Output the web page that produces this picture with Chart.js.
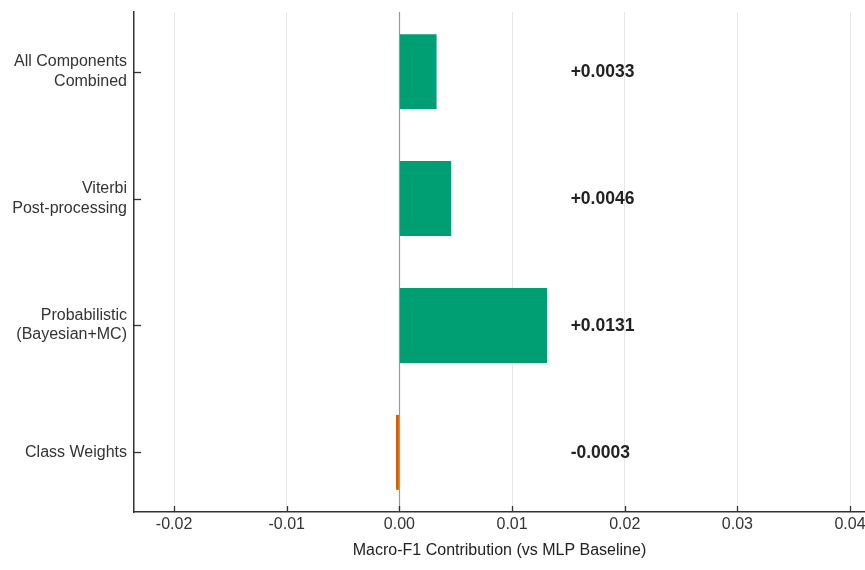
<!DOCTYPE html>
<html>
<head>
<meta charset="utf-8">
<script src="https://cdn.jsdelivr.net/npm/chart.js@4/dist/chart.umd.min.js"></script>
<style>
  html, body { margin: 0; padding: 0; background: #fff; }
  #wrap { width: 865px; height: 570px; position: relative; }
</style>
</head>
<body>
<div id="wrap"><canvas id="c"></canvas></div>
<script>
// Categories, bottom (index 0) to top (index 3)
const categories = [
  ['Class Weights'],
  ['Probabilistic', '(Bayesian+MC)'],
  ['Viterbi', 'Post-processing'],
  ['All Components', 'Combined']
];
const contributions = [-0.0003, 0.0131, 0.0046, 0.0033];
const valueLabels = ['-0.0003', '+0.0131', '+0.0046', '+0.0033'];
const xTickValues = [-0.02, -0.01, 0.00, 0.01, 0.02, 0.03, 0.04];
const labelXPosition = 0.0152;

const GREEN = '#009E73';
const ORANGE = '#D55E00';
const FONT = "'Liberation Sans', Arial, sans-serif";

const inwardTicks = {
  id: 'inwardTicks',
  afterDraw(chart) {
    const ctx = chart.ctx;
    const xs = chart.scales.x, ys = chart.scales.y;
    const area = chart.chartArea;
    ctx.save();
    ctx.strokeStyle = '#333';
    ctx.lineWidth = 1.3;
    xTickValues.forEach(v => {
      const px = Math.round(xs.getPixelForValue(v)) + 0.5;
      ctx.beginPath();
      ctx.moveTo(px, area.bottom);
      ctx.lineTo(px, area.bottom - 6);
      ctx.stroke();
    });
    categories.forEach((c, i) => {
      const py = Math.round(ys.getPixelForValue(i)) + 0.5;
      ctx.beginPath();
      ctx.moveTo(area.left, py);
      ctx.lineTo(area.left + 7, py);
      ctx.stroke();
    });
    // value labels
    ctx.fillStyle = '#222';
    ctx.font = "bold 17.5px " + FONT;
    ctx.textAlign = 'left';
    ctx.textBaseline = 'middle';
    valueLabels.forEach((t, i) => {
      ctx.fillText(t, xs.getPixelForValue(labelXPosition), ys.getPixelForValue(i) + 1);
    });
    ctx.restore();
  }
};

const zeroLine = {
  id: 'zeroLine',
  beforeDatasetsDraw(chart) {
    const ctx = chart.ctx;
    const xs = chart.scales.x;
    const area = chart.chartArea;
    const px = Math.round(xs.getPixelForValue(0)) + 0.5;
    ctx.save();
    ctx.strokeStyle = '#9a9a9a';
    ctx.lineWidth = 1.2;
    ctx.beginPath();
    ctx.moveTo(px, area.top);
    ctx.lineTo(px, area.bottom);
    ctx.stroke();
    ctx.restore();
  }
};

new Chart(document.getElementById('c'), {
  type: 'bar',
  data: {
    datasets: [{
      data: contributions.map((v, i) => ({ x: v, y: i })),
      backgroundColor: contributions.map(v => v >= 0 ? GREEN : ORANGE),
      borderWidth: 0,
      barPercentage: 0.59,
      categoryPercentage: 1.0
    }]
  },
  options: {
    indexAxis: 'y',
    responsive: true,
    maintainAspectRatio: false,
    animation: false,
    layout: { padding: { top: 12, right: 0, left: 0, bottom: 0 } },
    plugins: { legend: { display: false }, tooltip: { enabled: false } },
    scales: {
      x: {
        type: 'linear',
        offset: false,
        min: -0.02356,
        max: 0.04133,
        afterBuildTicks(scale) {
          scale.ticks = xTickValues.map(v => ({ value: v }));
        },
        afterFit(scale) {
          scale.height = 58;
          scale.paddingLeft = 0; scale.paddingRight = 0;
        },
        ticks: {
          color: '#333',
          font: { family: FONT, size: 16 },
          padding: 3,
          maxRotation: 0,
          autoSkip: false,
          callback: v => v.toFixed(2)
        },
        grid: {
          color: '#e6e6e6',
          lineWidth: 1,
          drawTicks: false
        },
        border: { display: true, color: '#333', width: 1.5 },
        title: {
          display: true,
          text: 'Macro-F1 Contribution (vs MLP Baseline)',
          color: '#222',
          font: { family: FONT, size: 16 },
          padding: { top: 0, bottom: 10 }
        }
      },
      y: {
        type: 'linear',
        offset: false,
        min: -0.47,
        max: 3.47,
        afterBuildTicks(scale) {
          scale.ticks = categories.map((c, i) => ({ value: i }));
        },
        afterFit(scale) {
          scale.width = 134;
          scale.paddingTop = 0; scale.paddingBottom = 0;
        },
        ticks: {
          color: '#333',
          font: { family: FONT, size: 16, lineHeight: 1.2 },
          padding: 7,
          autoSkip: false,
          callback: v => categories[v]
        },
        grid: { display: false, drawTicks: false },
        border: { display: true, color: '#333', width: 1.5 }
      }
    }
  },
  plugins: [zeroLine, inwardTicks]
});
</script>
</body>
</html>
